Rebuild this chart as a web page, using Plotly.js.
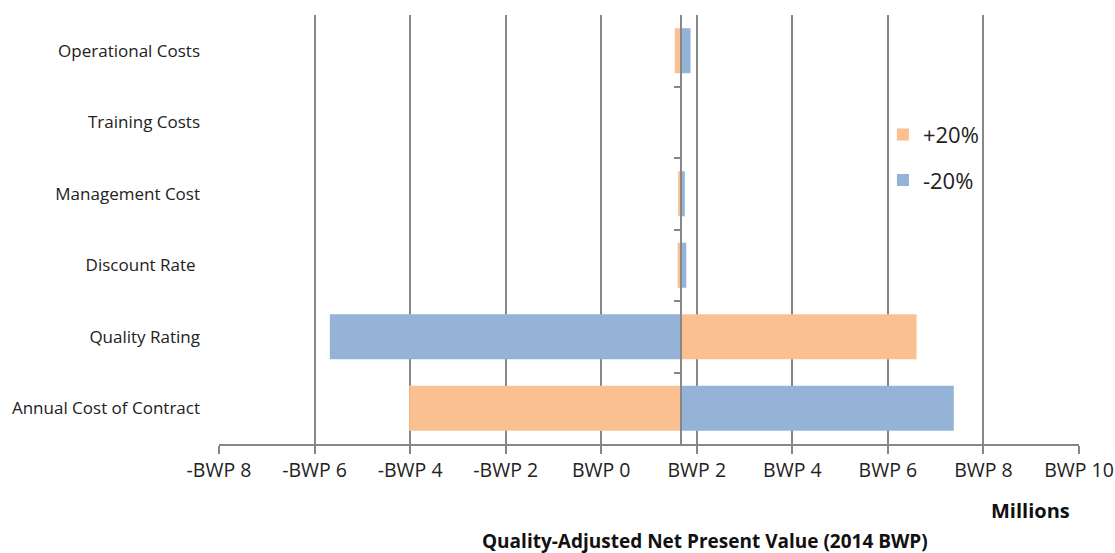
<!DOCTYPE html>
<html><head><meta charset="utf-8">
<script src="https://cdn.plot.ly/plotly-3.0.1.min.js"></script>
<style>html,body{margin:0;padding:0;background:#fff}#c{width:1115px;height:553px}</style>
</head><body><div id="c"></div>
<script>
const categories = ["Operational Costs","Training Costs","Management Cost","Discount Rate ","Quality Rating","Annual Cost of Contract"];
const baseValue = 1.68;
const plus20 = [1.54, 1.68, 1.61, 1.60, 6.60, -4.02];
const minus20 = [1.87, 1.68, 1.75, 1.78, -5.68, 7.38];
const tickVals = [-8,-6,-4,-2,0,2,4,6,8,10];
const tickText = ["-BWP 8","-BWP 6","-BWP 4","-BWP 2","BWP 0","BWP 2","BWP 4","BWP 6","BWP 8","BWP 10"];

const grey = "#878787";
const F = "Open Sans, Liberation Sans, Arial, sans-serif";
const traces = [
  {type:"bar", orientation:"h", name:"+20%", y:categories, x:plus20.map(v=>v-baseValue), base:baseValue,
   marker:{color:"#FAC090"}, width:0.63, legendgroup:"a", hoverinfo:"x+y"},
  {type:"bar", orientation:"h", name:"-20%", y:categories, x:minus20.map(v=>v-baseValue), base:baseValue,
   marker:{color:"#95B3D7"}, width:0.63, legendgroup:"b", hoverinfo:"x+y"},
  {type:"scatter", x:[baseValue], y:[0], yaxis:"y2", mode:"markers", marker:{opacity:0}, showlegend:false, hoverinfo:"skip"}
];
const layout = {
  width:1115, height:553,
  margin:{l:219, r:36, t:15, b:109},
  paper_bgcolor:"#fff", plot_bgcolor:"#fff",
  barmode:"overlay",
  font:{family:F, color:"#222"},
  xaxis:{range:[-8,10], tickvals:tickVals, ticktext:tickText, showgrid:true, gridcolor:grey, gridwidth:2,
         zeroline:false, showline:true, linecolor:grey, linewidth:2, ticks:"outside", ticklen:8, tickwidth:2,
         tickcolor:grey, tickfont:{size:19.5, color:"#222"}, fixedrange:true},
  yaxis:{autorange:"reversed", showline:false, showgrid:false, zeroline:false, ticks:"",
         tickfont:{size:17, color:"#222"}, ticklabelstandoff:18},
  yaxis2:{overlaying:"y", anchor:"free", position:(baseValue+8)/18, range:[5.5,-0.5], showline:true,
          linecolor:grey, linewidth:2, tickvals:[0.5,1.5,2.5,3.5,4.5], showticklabels:false,
          ticks:"outside", ticklen:6, tickwidth:2, tickcolor:grey, showgrid:false, zeroline:false},
  legend:{x:0.772, y:0.77, xanchor:"left", yanchor:"top", bgcolor:"rgba(0,0,0,0)", font:{size:22, color:"#222"},
          traceorder:"grouped", tracegroupgap:14},
  showlegend:true,
  annotations:[
    {text:"<b>Millions</b>", xref:"paper", yref:"paper", x:(1030-219)/860, y:-0.155, showarrow:false,
     font:{size:20, color:"#111"}, xanchor:"center", yanchor:"middle"},
    {text:"<b>Quality-Adjusted Net Present Value (2014 BWP)</b>", xref:"paper", yref:"paper", x:(705-219)/860, y:-0.225,
     showarrow:false, font:{size:19, color:"#111"}, xanchor:"center", yanchor:"middle"}
  ]
};
Plotly.newPlot("c", traces, layout, {displayModeBar:false, staticPlot:true});
</script></body></html>
